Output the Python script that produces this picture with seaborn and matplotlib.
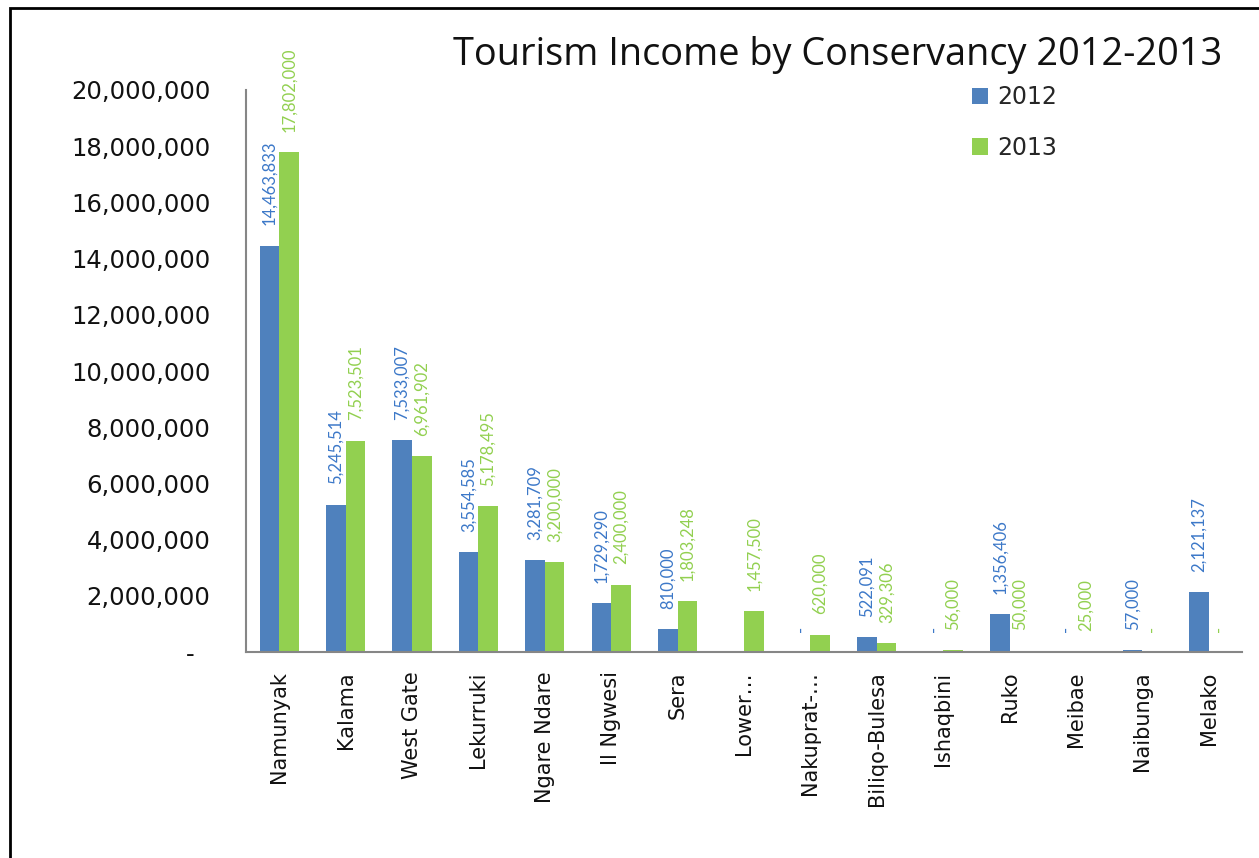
import numpy as np
import pandas as pd
import matplotlib
matplotlib.use("Agg")
import matplotlib.pyplot as plt
from matplotlib.patches import Rectangle, Patch
from matplotlib.ticker import FuncFormatter, FixedLocator
import seaborn as sns

# Tourism income per conservancy (KES)
conservancies = ["Namunyak", "Kalama", "West Gate", "Lekurruki", "Ngare Ndare",
                 "Il Ngwesi", "Sera", "Lower\u2026", "Nakuprat-\u2026", "Biliqo-Bulesa",
                 "Ishaqbini", "Ruko", "Meibae", "Naibunga", "Melako"]
income_2012 = [14463833, 5245514, 7533007, 3554585, 3281709, 1729290, 810000,
               np.nan, 0, 522091, 0, 1356406, 0, 57000, 2121137]
income_2013 = [17802000, 7523501, 6961902, 5178495, 3200000, 2400000, 1803248,
               1457500, 620000, 329306, 56000, 50000, 25000, 0, 0]
years = ["2012", "2013"]

bar_colors = ["#4F81BD", "#92D050"]
label_colors = ["#3C78C8", "#92D050"]

df = pd.DataFrame({
    "Conservancy": conservancies * 2,
    "Year": [years[0]] * len(conservancies) + [years[1]] * len(conservancies),
    "Income": income_2012 + income_2013,
}).dropna()

sns.set_theme(style="white")
plt.rcParams["font.family"] = ["DejaVu Sans"]

fig = plt.figure(figsize=(12.59, 8.58), dpi=100)
ax = fig.add_axes([246 / 1259, 1 - 652 / 858, (1242 - 246) / 1259, (652 - 90) / 858])

sns.barplot(data=df, x="Conservancy", y="Income", hue="Year", order=conservancies,
            hue_order=years, palette=bar_colors, saturation=1, width=0.59,
            linewidth=0, errorbar=None, legend=False, ax=ax)


def fmt_value(v):
    if np.isnan(v):
        return ""
    return "-" if v == 0 else f"{v:,.0f}"


for cont, col in zip(ax.containers, label_colors):
    labels = [fmt_value(p.get_height()) for p in cont.patches]
    ax.bar_label(cont, labels=labels, rotation=90, padding=14.5, color=col,
                 fontsize=12, family=["Lato", "DejaVu Sans"])

ax.set_ylim(0, 20_000_000)
ax.set_xlim(-0.5, len(conservancies) - 0.5)
ax.yaxis.set_major_locator(FixedLocator(np.arange(0, 20_000_001, 2_000_000)))
ax.yaxis.set_major_formatter(FuncFormatter(lambda v, p: "-  " if v == 0 else f"{v:,.0f}"))
ax.set_xlabel("")
ax.set_ylabel("")

ax.set_xticks(np.arange(len(conservancies)))
ax.set_xticklabels(conservancies, rotation=90, fontsize=15, color="#111111")
ax.set_xticks(np.arange(len(conservancies) + 1) - 0.5, minor=True)
ax.tick_params(axis="x", which="major", length=0, pad=14)
ax.tick_params(axis="x", which="minor", length=10, width=1.3, color="#868686", direction="out")
ax.tick_params(axis="y", which="major", length=8, width=1.3, color="#868686",
               direction="out", pad=17.5, labelsize=17.5, labelcolor="#111111")

for s in ["top", "right"]:
    ax.spines[s].set_visible(False)
for s in ["left", "bottom"]:
    ax.spines[s].set_color("#868686")
    ax.spines[s].set_linewidth(1.5)

fig.text(1222 / 1259, 1 - 65 / 858, "Tourism Income by Conservancy 2012-2013",
         ha="right", va="baseline", fontsize=27.3, family=["Open Sans", "DejaVu Sans"],
         color="#111111")

handles = [Patch(facecolor=c, edgecolor="none") for c in bar_colors]
fig.legend(handles, years, loc="upper left", bbox_to_anchor=(972 / 1259, 1 - 85 / 858),
           bbox_transform=fig.transFigure, frameon=False, fontsize=17,
           handlelength=0.68, handleheight=0.68, handletextpad=0.4,
           labelspacing=1.13, borderpad=0, borderaxespad=0)

# outer frame around the chart area
fig.patches.append(Rectangle((9.5 / 1259, -0.1), 1.2, 1.1 - 8.5 / 858, fill=False,
                             edgecolor="black", linewidth=2, transform=fig.transFigure,
                             figure=fig))

fig.savefig("out.png", dpi=100)
